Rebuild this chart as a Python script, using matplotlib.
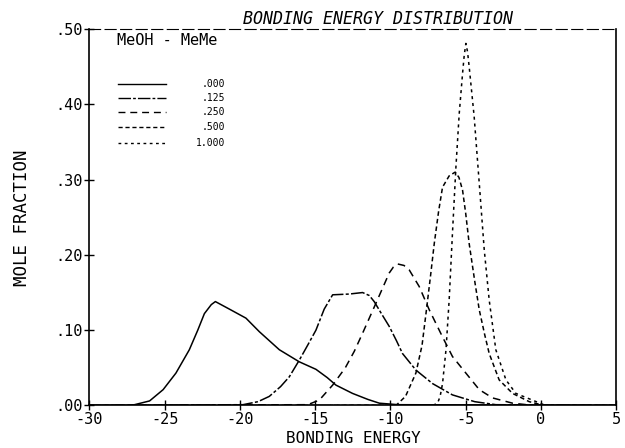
import numpy as np
import matplotlib
matplotlib.use("Agg")
import matplotlib.pyplot as plt
from matplotlib.ticker import FuncFormatter

# MeOH - MeMe bonding energy distributions
x_000 = [-30, -27.5, -27.0, -26.0, -25.1, -24.25, -23.36, -22.8, -22.36, -21.9, -21.63,
         -20.7, -19.6, -18.71, -17.38, -16.06, -14.95, -14.2, -13.62, -12.52, -11.5,
         -10.74, -9.5, 5]
y_000 = [0, 0.0, 0.001, 0.006, 0.021, 0.043, 0.074, 0.100, 0.122, 0.134, 0.138,
         0.128, 0.116, 0.098, 0.074, 0.058, 0.048, 0.037, 0.027, 0.016, 0.008,
         0.003, 0.001, 0]

x_125 = [-30, -19.8, -18.8, -18.05, -17.3, -16.72, -16.06, -15.5, -14.95, -14.4, -13.84,
         -12.74, -11.85, -11.4, -11.08, -10.6, -10.08, -9.6, -9.2, -8.31, -7.2, -5.88,
         -4.4, -3.0, 5]
y_125 = [0, 0.001, 0.005, 0.012, 0.025, 0.038, 0.060, 0.080, 0.100, 0.128, 0.147,
         0.148, 0.150, 0.146, 0.138, 0.122, 0.105, 0.086, 0.069, 0.047, 0.029, 0.014,
         0.005, 0.001, 0]

x_250 = [-30, -15.5, -14.73, -13.84, -13.0, -12.4, -11.85, -10.96, -10.08, -9.8, -9.53,
         -9.1, -8.75, -8.09, -7.42, -6.54, -5.88, -4.99, -4.1, -3.22, -1.89, -0.5, 5]
y_250 = [0, 0.001, 0.007, 0.027, 0.050, 0.072, 0.096, 0.136, 0.176, 0.184, 0.188,
         0.186, 0.180, 0.158, 0.127, 0.091, 0.065, 0.043, 0.021, 0.010, 0.003, 0.0, 0]

x_500 = [-30, -9.63, -9.0, -8.31, -7.9, -7.64, -7.35, -7.09, -6.8, -6.54, -6.1, -5.7,
         -5.45, -5.21, -5.0, -4.77, -4.4, -4.1, -3.75, -3.44, -2.78, -1.89, -0.78, 0.2, 5]
y_500 = [0, 0.0, 0.012, 0.043, 0.080, 0.122, 0.170, 0.215, 0.258, 0.290, 0.305, 0.310,
         0.303, 0.286, 0.255, 0.215, 0.165, 0.127, 0.095, 0.069, 0.034, 0.016, 0.005, 0.0, 0]

x_1000 = [-30, -7.2, -6.87, -6.7, -6.54, -6.31, -6.1, -5.88, -5.65, -5.43, -5.21, -5.1,
          -4.99, -4.88, -4.77, -4.44, -4.1, -3.77, -3.44, -3.0, -2.33, -1.67, -0.56, 0.3, 5]
y_1000 = [0, 0, 0.003, 0.012, 0.029, 0.074, 0.140, 0.229, 0.317, 0.388, 0.441, 0.465,
          0.481, 0.470, 0.450, 0.384, 0.295, 0.207, 0.140, 0.074, 0.034, 0.016, 0.007, 0.0, 0]

labels = [".000", ".125", ".250", ".500", "1.000"]
xticks = [-30, -25, -20, -15, -10, -5, 0, 5]
yticks = [0.0, 0.1, 0.2, 0.3, 0.4, 0.5]

series = [(x_000, y_000), (x_125, y_125), (x_250, y_250),
          (x_500, y_500), (x_1000, y_1000)]
styles = ["-", (0, (9, 1.5, 2, 1.5)), (0, (5, 3.5)), (0, (3, 2)), (0, (2, 2.5))]

plt.rcParams["font.family"] = ["DejaVu Sans Mono"]

fig = plt.figure(figsize=(6.25, 4.48), dpi=100)
ax = fig.add_axes([0.143, 0.095, 0.843, 0.84])

for (xs, ys), ls in zip(series, styles):
    ax.plot(xs, ys, color="k", lw=1.1, linestyle=ls)

ax.set_xlim(-30, 5)
ax.set_ylim(0, 0.5)
ax.set_xticks(xticks)
ax.set_yticks(yticks)
ax.xaxis.set_major_formatter(FuncFormatter(lambda v, p: f"{v:.0f}"))
ax.yaxis.set_major_formatter(FuncFormatter(lambda v, p: f"{v:.2f}".lstrip("0")))
ax.tick_params(direction="inout", length=7, width=1, labelsize=11, pad=1, colors="k")

for s in ["left", "bottom", "right"]:
    ax.spines[s].set_linewidth(1.2)
ax.spines["top"].set_linestyle((0, (10, 4)))
ax.spines["top"].set_linewidth(0.8)

fig.text(0.565, 0.022, "BONDING ENERGY", fontsize=11.5, ha="center", va="center")
fig.text(0.036, 0.515, "MOLE FRACTION", fontsize=12.5, rotation=90,
         ha="center", va="center")
fig.text(0.605, 0.958, "BONDING ENERGY DISTRIBUTION", fontsize=12,
         style="italic", ha="center", va="center")

# hand-drawn style legend box
ax.text(0.052, 0.97, "MeOH - MeMe", transform=ax.transAxes, fontsize=11,
        ha="left", va="center")
row_y = [0.855, 0.818, 0.78, 0.74, 0.698]
for lab, ls, yy in zip(labels, styles, row_y):
    ax.plot([0.055, 0.145], [yy, yy], transform=ax.transAxes, color="k",
            lw=1.0, linestyle=ls)
    ax.text(0.257, yy, lab, transform=ax.transAxes, fontsize=7,
            ha="right", va="center")

fig.savefig("out.png", dpi=100, facecolor="w")
